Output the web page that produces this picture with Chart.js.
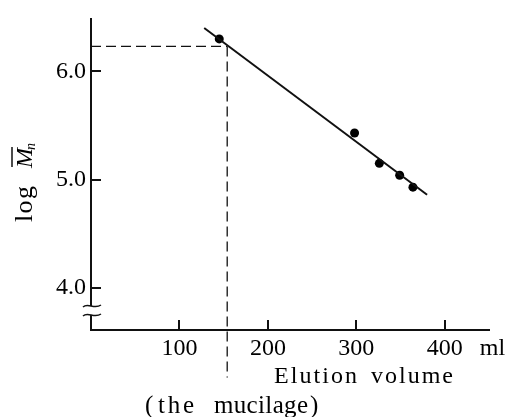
<!DOCTYPE html>
<html>
<head>
<meta charset="utf-8">
<script src="https://cdn.jsdelivr.net/npm/chart.js@4/dist/chart.umd.min.js"></script>
<style>
  html, body { margin: 0; padding: 0; background: #fff; }
  #chart { display: block; }
</style>
</head>
<body>
<canvas id="chart" width="507" height="417"></canvas>
<script>
// Measured points (elution volume in ml vs log Mn)
const elutionVolume = [145, 298, 326, 349, 364];
const logMn = [6.30, 5.43, 5.15, 5.04, 4.93];

// Fitted calibration line end points
const fitVolume = [128, 380];
const fitLogMn = [6.40, 4.86];

// Reading for the mucilage (dashed guide lines)
const mucilageVolume = 154;
const mucilageLogMn = 6.23;
const guideBottomLogMn = 3.17;

// Tick values
const xTicks = [100, 200, 300, 400];
const yTicks = [4.0, 5.0, 6.0];

const SERIF = "'Liberation Serif', 'DejaVu Serif', serif";
Chart.defaults.font.family = SERIF;
Chart.defaults.color = "#000";

const toPoints = (xs, ys) => xs.map((x, i) => ({ x, y: ys[i] }));

// Draw a word letter-spaced so that it fills the given width
const spacedWord = (ctx, text, left, y, width) => {
  const w = ctx.measureText(text).width;
  const gap = text.length > 1 ? (width - w) / (text.length - 1) : 0;
  let x = left;
  for (const ch of text) {
    ctx.fillText(ch, x, y);
    x += ctx.measureText(ch).width + gap;
  }
};

// Inward tick marks, axis break, axis titles
const decorations = {
  id: "decorations",
  afterDraw(chart) {
    const { ctx, chartArea, scales } = chart;
    const xs = scales.x;
    const ys = scales.y;
    ctx.save();
    ctx.setLineDash([]);
    ctx.strokeStyle = "#111";
    ctx.lineWidth = 2;

    // tick marks pointing into the plot
    ctx.beginPath();
    xs.ticks.forEach((t) => {
      const px = Math.round(xs.getPixelForValue(t.value));
      ctx.moveTo(px, chartArea.bottom);
      ctx.lineTo(px, chartArea.bottom - 10);
    });
    ys.ticks.forEach((t) => {
      const py = Math.round(ys.getPixelForValue(t.value));
      ctx.moveTo(chartArea.left, py);
      ctx.lineTo(chartArea.left + 10, py);
    });
    ctx.stroke();

    // axis break
    const bx = chartArea.left;
    const b1 = chartArea.bottom - 24;
    const b2 = chartArea.bottom - 15;
    ctx.fillStyle = "#fff";
    ctx.fillRect(bx - 4, b1, 8, b2 - b1);
    ctx.lineWidth = 1.5;
    [b1, b2].forEach((by) => {
      ctx.beginPath();
      ctx.moveTo(bx - 8, by + 1);
      ctx.bezierCurveTo(bx - 3, by - 4, bx + 3, by + 4, bx + 10, by - 1);
      ctx.stroke();
    });

    ctx.fillStyle = "#000";
    ctx.textAlign = "left";
    ctx.textBaseline = "alphabetic";

    // unit after the last x tick label
    ctx.font = `24px ${SERIF}`;
    ctx.fillText("ml", xs.getPixelForValue(400) + 35, chartArea.bottom + 25);

    // x axis titles
    spacedWord(ctx, "Elution", 274, 383, 83);
    spacedWord(ctx, "volume", 371, 383, 82);
    ctx.font = `25px ${SERIF}`;
    spacedWord(ctx, "(", 145, 413, 8);
    spacedWord(ctx, "the", 158, 413, 36);
    spacedWord(ctx, "mucilage", 214, 413, 94);
    spacedWord(ctx, ")", 310, 413, 8);

    // y axis title: log M̄n (rotated)
    ctx.save();
    ctx.translate(32, 222);
    ctx.rotate(-Math.PI / 2);
    ctx.font = `26px ${SERIF}`;
    spacedWord(ctx, "log", 0, 0, 36);
    const mX = 54;
    ctx.font = `italic 24px ${SERIF}`;
    ctx.fillText("M", mX, 0);
    const mW = ctx.measureText("M").width;
    ctx.lineWidth = 1.5;
    ctx.beginPath();
    ctx.moveTo(mX + 1, -20);
    ctx.lineTo(mX + mW + 1, -20);
    ctx.stroke();
    ctx.font = `italic 14px ${SERIF}`;
    ctx.fillText("n", mX + mW - 2, 3);
    ctx.restore();

    ctx.restore();
  },
};

new Chart(document.getElementById("chart"), {
  type: "scatter",
  data: {
    datasets: [
      {
        label: "fit",
        data: toPoints(fitVolume, fitLogMn),
        showLine: true,
        borderColor: "#111",
        borderWidth: 2,
        pointRadius: 0,
      },
      {
        label: "guide h",
        data: toPoints([0, mucilageVolume], [mucilageLogMn, mucilageLogMn]),
        showLine: true,
        borderColor: "#111",
        borderWidth: 1.3,
        borderDash: [10, 5],
        pointRadius: 0,
      },
      {
        label: "guide v",
        data: toPoints([mucilageVolume, mucilageVolume], [mucilageLogMn, guideBottomLogMn]),
        showLine: true,
        borderColor: "#111",
        borderWidth: 1.3,
        borderDash: [10, 5],
        pointRadius: 0,
        clip: false,
      },
      {
        label: "measured",
        data: toPoints(elutionVolume, logMn),
        showLine: false,
        backgroundColor: "#000",
        borderColor: "#000",
        pointRadius: 4.5,
        borderWidth: 0,
      },
    ],
  },
  options: {
    responsive: false,
    animation: false,
    events: [],
    layout: { padding: { left: 0, top: 15, right: 18, bottom: 0 } },
    plugins: {
      legend: { display: false },
      tooltip: { enabled: false },
    },
    scales: {
      x: {
        type: "linear",
        min: 0,
        max: 450,
        afterFit: (scale) => { scale.height = 87; },
        afterBuildTicks: (scale) => { scale.ticks = xTicks.map((value) => ({ value })); },
        ticks: {
          font: { size: 24 },
          padding: 4,
          maxRotation: 0,
          callback: (v) => String(v),
        },
        grid: { display: false, drawTicks: false },
        border: { display: true, color: "#111", width: 2 },
      },
      y: {
        type: "linear",
        min: 3.61,
        max: 6.48,
        afterFit: (scale) => { scale.width = 91; },
        afterBuildTicks: (scale) => { scale.ticks = yTicks.map((value) => ({ value })); },
        ticks: {
          font: { size: 24 },
          padding: 5,
          callback: (v) => Number(v).toFixed(1),
        },
        grid: { display: false, drawTicks: false },
        border: { display: true, color: "#111", width: 2 },
      },
    },
  },
  plugins: [decorations],
});
</script>
</body>
</html>
